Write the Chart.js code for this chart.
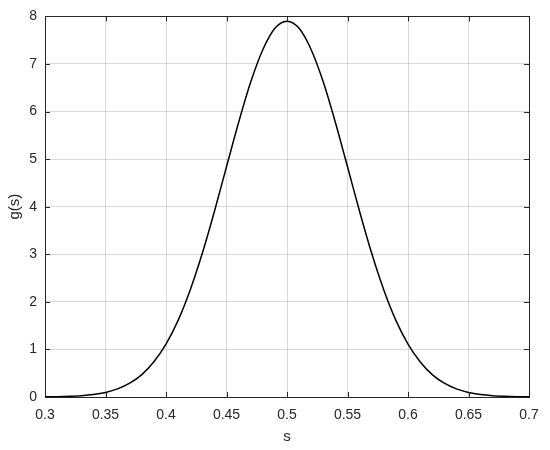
<!DOCTYPE html>
<html>
<head>
<meta charset="utf-8">
<script src="https://cdn.jsdelivr.net/npm/chart.js@4"></script>
<style>
html,body{margin:0;padding:0;background:#fff;}
#wrap{width:550px;height:450px;}
</style>
</head>
<body>
<div id="wrap"><canvas id="c" width="550" height="450"></canvas></div>
<script>
// s values (x) and g(s) values
const sValues = [0.30,0.31,0.32,0.33,0.34,0.35,0.36,0.37,0.38,0.39,0.40,0.41,0.42,0.43,0.44,0.45,0.46,0.47,0.48,0.49,0.50,
                 0.51,0.52,0.53,0.54,0.55,0.56,0.57,0.58,0.59,0.60,0.61,0.62,0.63,0.64,0.65,0.66,0.67,0.68,0.69,0.70];
const gValues = [0.003,0.007,0.014,0.027,0.052,0.096,0.17,0.29,0.47,0.74,1.11,1.61,2.25,3.02,3.90,4.84,5.77,6.62,7.30,7.75,7.90,
                 7.75,7.30,6.62,5.77,4.84,3.90,3.02,2.25,1.61,1.11,0.74,0.47,0.29,0.17,0.096,0.052,0.027,0.014,0.007,0.003];
const xTicks = [0.3,0.35,0.4,0.45,0.5,0.55,0.6,0.65,0.7];
const yTicks = [0,1,2,3,4,5,6,7,8];
const xLabel = 's';
const yLabel = 'g(s)';

const points = sValues.map((s,i)=>({x:s,y:gValues[i]}));
const axisColor = '#262626';
const fontFamily = "'Liberation Sans', Arial, Helvetica, sans-serif";

const boxPlugin = {
  id:'boxTicks',
  afterDraw(chart){
    const ctx = chart.ctx, a = chart.chartArea;
    const xs = chart.scales.x, ys = chart.scales.y;
    ctx.save();
    ctx.strokeStyle = axisColor;
    ctx.lineWidth = 1;
    ctx.beginPath();
    const tl = 5;
    xTicks.forEach(v=>{
      const px = Math.round(xs.getPixelForValue(v))+0.5;
      ctx.moveTo(px,a.bottom); ctx.lineTo(px,a.bottom-tl);
      ctx.moveTo(px,a.top); ctx.lineTo(px,a.top+tl);
    });
    yTicks.forEach(v=>{
      const py = Math.round(ys.getPixelForValue(v))+0.5;
      ctx.moveTo(a.left,py); ctx.lineTo(a.left+tl,py);
      ctx.moveTo(a.right,py); ctx.lineTo(a.right-tl,py);
    });
    ctx.stroke();
    ctx.strokeRect(Math.round(a.left)+0.5, Math.round(a.top)+0.5, Math.round(a.right-a.left), Math.round(a.bottom-a.top));
    ctx.restore();
  }
};

new Chart(document.getElementById('c'), {
  type:'line',
  data:{datasets:[{data:points, borderColor:'#000', borderWidth:1.5, pointRadius:0, fill:false, cubicInterpolationMode:'monotone'}]},
  options:{
    responsive:false, animation:false,
    layout:{padding:{left:0,right:21,top:15,bottom:0}},
    plugins:{legend:{display:false}, tooltip:{enabled:false}},
    scales:{
      x:{type:'linear', min:0.3, max:0.7,
        afterBuildTicks(s){ s.ticks = xTicks.map(v=>({value:v})); },
        afterFit(s){ s.height = 53; },
        ticks:{color:axisColor, font:{family:fontFamily,size:14}, padding:10, maxRotation:0,
          callback:v=>String(+v.toFixed(2))},
        grid:{color:'rgba(0,0,0,0.15)', drawTicks:false, lineWidth:1},
        border:{display:false},
        title:{display:true, text:xLabel, color:axisColor, font:{family:fontFamily,size:15}, padding:{top:4,bottom:4}}
      },
      y:{type:'linear', min:0, max:8,
        afterBuildTicks(s){ s.ticks = yTicks.map(v=>({value:v})); },
        afterFit(s){ s.width = 45; },
        ticks:{color:axisColor, font:{family:fontFamily,size:14}, padding:8,
          callback:v=>String(v)},
        grid:{color:'rgba(0,0,0,0.15)', drawTicks:false, lineWidth:1},
        border:{display:false},
        title:{display:true, text:yLabel, color:axisColor, font:{family:fontFamily,size:15}, padding:{top:6,bottom:2}}
      }
    }
  },
  plugins:[boxPlugin]
});
</script>
</body>
</html>
